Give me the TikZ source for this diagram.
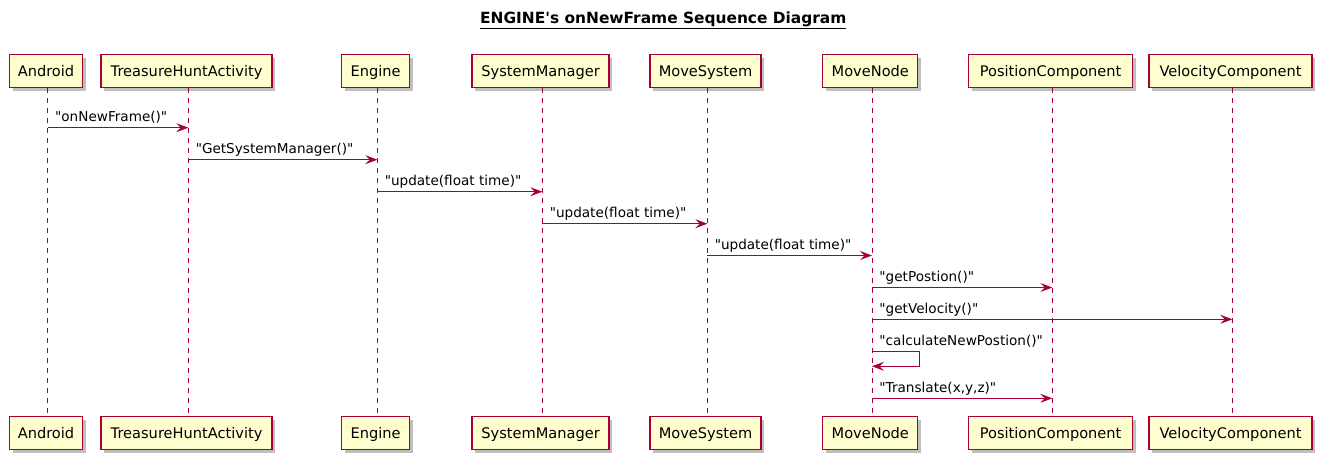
\documentclass[tikz,border=0pt]{standalone}
\usepackage{fontspec}
\setmainfont{DejaVu Sans}
\usetikzlibrary{arrows.meta,shadows}
\definecolor{umlred}{HTML}{A80036}
\definecolor{umlfill}{HTML}{FEFECE}
\newcommand\quoted[1]{\textquotedbl#1\textquotedbl}
\tikzset{
    participant/.style={draw=umlred, fill=umlfill, line width=1.3pt, minimum height=33pt,
        inner sep=0pt, text height=11pt, text depth=1pt, font=\fontsize{14.6}{16}\selectfont,
        drop shadow={shadow xshift=3pt, shadow yshift=-3pt, fill=black, opacity=.25}},
    lifeline/.style={draw=umlred, line width=.9pt, dash pattern=on 5pt off 5pt},
    msg/.style={draw=umlred, line width=.9pt, -{Stealth[length=12pt,width=9pt,inset=4.5pt]}},
    msglabel/.style={at start, anchor=base west, inner sep=0pt, xshift=7pt, yshift=6pt,
        font=\fontsize{13.6}{15}\selectfont}
}

\begin{document}
\begin{tikzpicture}[x=1pt,y=-1pt]
    \useasboundingbox (0,0) rectangle (1325,461);
    \node[anchor=base, font=\fontsize{15.4}{17}\selectfont\bfseries] (title) at (663.3,23.3)
        {\underline{ENGINE\textquotesingle s onNewFrame Sequence Diagram}};
    % participants, top and bottom, with their lifelines
    \foreach \n/\x/\w in {Android/47.7/73, TreasureHuntActivity/188.3/171, Engine/377.3/68,
        SystemManager/542.3/137, MoveSystem/707.3/111, MoveNode/872/95,
        PositionComponent/1052.3/164, VelocityComponent/1232.3/163}{
        \coordinate (\n) at (\x,0);
        \node[participant, minimum width=\w pt] (\n-top) at ([xshift=-1.7pt]\x,71) {\n};
        \node[participant, minimum width=\w pt] (\n-bot) at ([xshift=-1.7pt]\x,433.3) {\n};
        \draw[lifeline] (\n-top.south -| \n) -- (\n-bot.north -| \n);
    }
    % messages
    \draw[msg] (Android |- 0,127.7) -- node[msglabel] {\quoted{onNewFrame()}} (TreasureHuntActivity |- 0,127.7);
    \draw[msg] (TreasureHuntActivity |- 0,159.7) -- node[msglabel] {\quoted{GetSystemManager()}} (Engine |- 0,159.7);
    \draw[msg] (Engine |- 0,191.7) -- node[msglabel] {\quoted{update(float time)}} (SystemManager |- 0,191.7);
    \draw[msg] (SystemManager |- 0,223.7) -- node[msglabel] {\quoted{update(float time)}} (MoveSystem |- 0,223.7);
    \draw[msg] (MoveSystem |- 0,255.5) -- node[msglabel] {\quoted{update(float time)}} (MoveNode |- 0,255.5);
    \draw[msg] (MoveNode |- 0,287.5) -- node[msglabel] {\quoted{getPostion()}} (PositionComponent |- 0,287.5);
    \draw[msg] (MoveNode |- 0,319.3) -- node[msglabel] {\quoted{getVelocity()}} (VelocityComponent |- 0,319.3);
    \draw[msg] (MoveNode |- 0,351.7) -- node[msglabel] {\quoted{calculateNewPostion()}} ++(47,0) -- ++(0,14.6)
        -- (MoveNode |- 0,366.3);
    \draw[msg] (MoveNode |- 0,398.3) -- node[msglabel] {\quoted{Translate(x,y,z)}} (PositionComponent |- 0,398.3);
\end{tikzpicture}
\end{document}
